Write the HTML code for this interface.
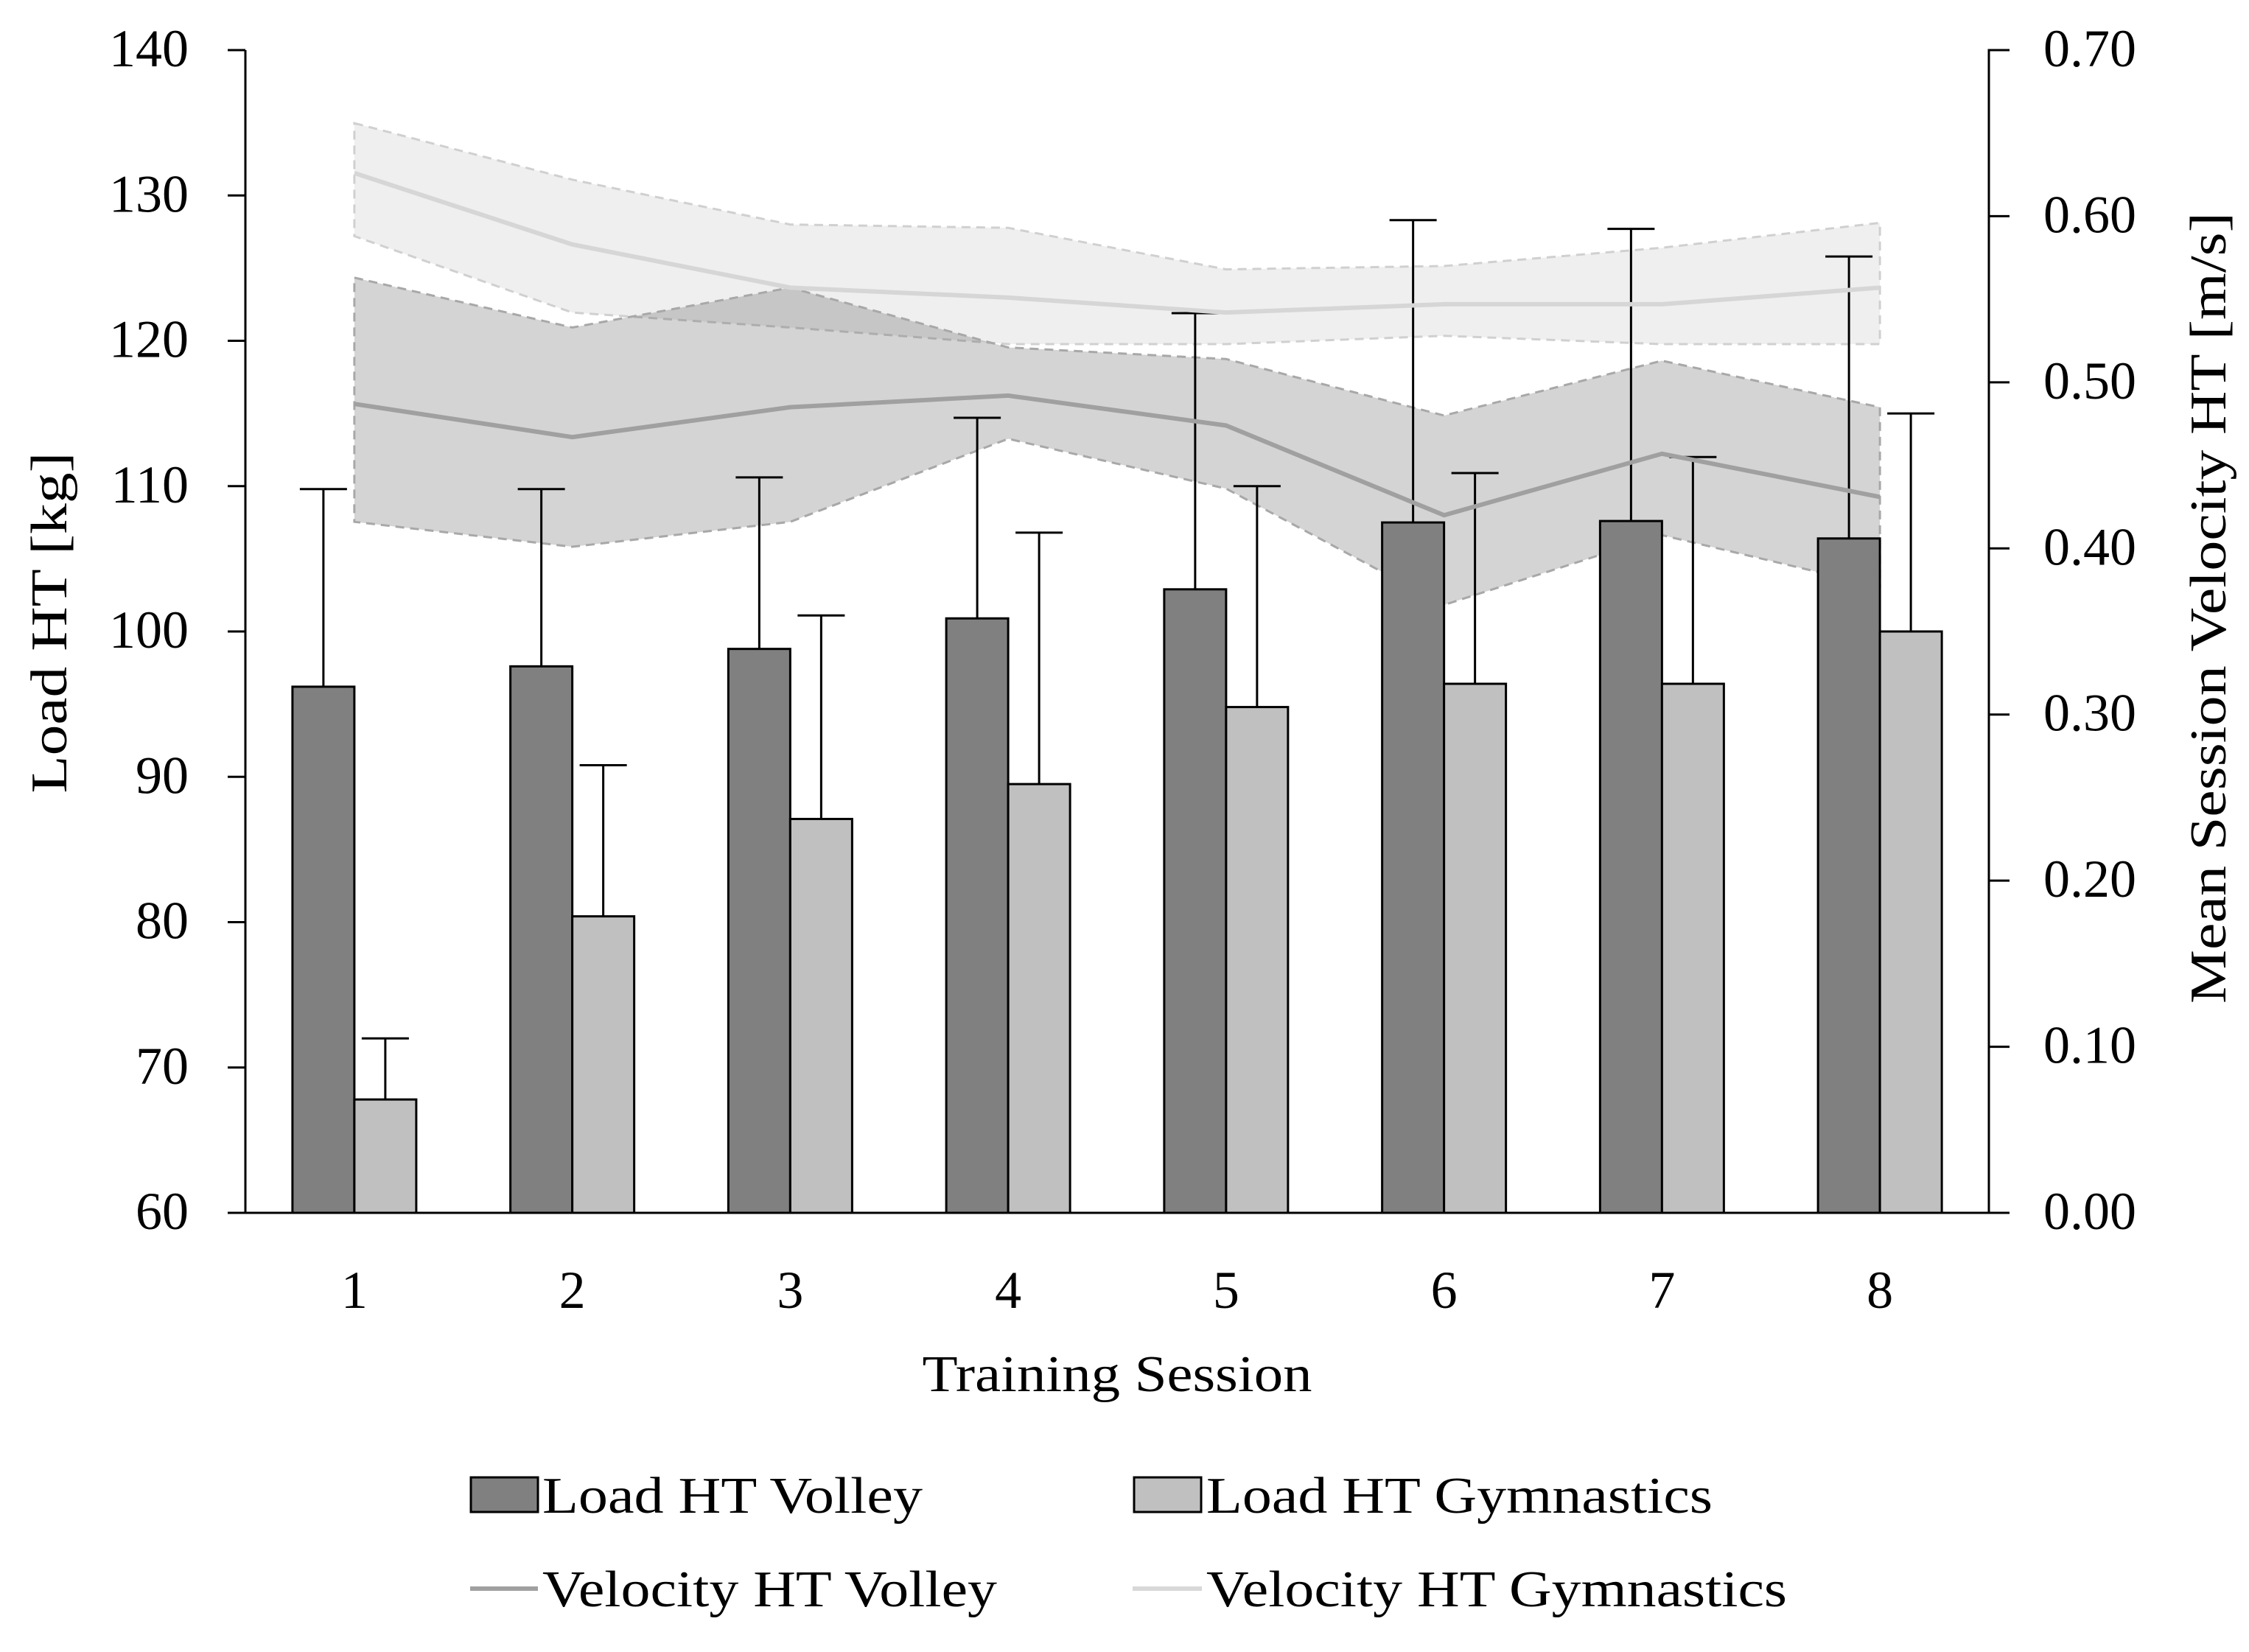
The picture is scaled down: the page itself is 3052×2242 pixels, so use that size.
<!DOCTYPE html>
<html><head><meta charset="utf-8"><style>
html,body{margin:0;padding:0;background:#fff;}
svg{display:block;font-family:"Liberation Serif",serif;}
</style></head><body>
<svg id="chart" width="3052" height="2242" viewBox="0 0 3052 2242" xmlns="http://www.w3.org/2000/svg">
<g id="bands"></g>
<g id="bars"></g>
<g id="lines"></g>
<g id="axes"></g>
<text x="1516" y="1888" font-size="70" text-anchor="middle" textLength="529" lengthAdjust="spacingAndGlyphs">Training Session</text>
<text transform="translate(90,845) rotate(-90)" font-size="70" text-anchor="middle" textLength="463" lengthAdjust="spacingAndGlyphs">Load HT [kg]</text>
<text transform="translate(3020,825) rotate(-90)" font-size="70" text-anchor="middle" textLength="1074" lengthAdjust="spacingAndGlyphs">Mean Session Velocity HT [m/s]</text>
<g>
 <g><rect x="639" y="2005" width="91" height="47" fill="#808080" stroke="#000" stroke-width="3"/><text x="736" y="2053" font-size="70" textLength="516" lengthAdjust="spacingAndGlyphs">Load HT Volley</text></g>
 <g><rect x="1539" y="2005" width="91" height="47" fill="#c0c0c0" stroke="#000" stroke-width="3"/><text x="1637" y="2053" font-size="70" textLength="687" lengthAdjust="spacingAndGlyphs">Load HT Gymnastics</text></g>
 <g><line x1="638" y1="2156" x2="730" y2="2156" stroke="#a0a0a0" stroke-width="6"/><text x="736" y="2180" font-size="70" textLength="617" lengthAdjust="spacingAndGlyphs">Velocity HT Volley</text></g>
 <g><line x1="1537" y1="2156" x2="1631" y2="2156" stroke="#d8d8d8" stroke-width="6"/><text x="1637" y="2180" font-size="70" textLength="788" lengthAdjust="spacingAndGlyphs">Velocity HT Gymnastics</text></g>
</g>
</svg>
<script>
const sessions = [1,2,3,4,5,6,7,8];
const loadVolley = [96.2,97.6,98.8,100.9,102.9,107.5,107.6,106.4];
const loadVolleyErrTop = [109.8,109.8,110.6,114.7,121.9,128.3,127.7,125.8];
const loadGym = [67.8,80.4,87.1,89.5,94.8,96.4,96.4,100.0];
const loadGymErrTop = [72.0,90.8,101.1,106.8,110.0,110.9,112.0,115.0];
const velVolley = [0.487,0.467,0.485,0.492,0.474,0.420,0.457,0.431];
const velVolleyUpper = [0.563,0.533,0.557,0.521,0.514,0.480,0.513,0.485];
const velVolleyLower = [0.416,0.401,0.416,0.466,0.436,0.366,0.408,0.377];
const velGym = [0.626,0.583,0.557,0.551,0.542,0.547,0.547,0.557];
const velGymUpper = [0.656,0.622,0.595,0.593,0.568,0.570,0.581,0.596];
const velGymLower = [0.588,0.542,0.533,0.523,0.523,0.528,0.523,0.523];
const leftTicks = [60,70,80,90,100,110,120,130,140];
const rightTicks = ["0.00","0.10","0.20","0.30","0.40","0.50","0.60","0.70"];

const NS="http://www.w3.org/2000/svg";
const L=333,R=2699,T=68,B=1646;
const xC=i=>L+(R-L)/sessions.length*(i+0.5);
const yL=v=>B-(v-60)/80*(B-T);
const yR=v=>B-v/0.7*(B-T);
function mk(parent,tag,attrs){const e=document.createElementNS(NS,tag);for(const k in attrs)e.setAttribute(k,attrs[k]);document.getElementById(parent).appendChild(e);return e;}

function band(up,lo,fill,stroke,name){
  const pts=up.map((v,i)=>xC(i)+','+yR(v)).concat(lo.map((v,i)=>xC(i)+','+yR(v)).reverse());
  const p=mk('bands','polygon',{points:pts.join(' '),fill:fill,stroke:stroke,'stroke-width':3,'stroke-dasharray':'12 8'});
  
  
}
band(velGymUpper,velGymLower,'#efefef','#d0d0d0','band-velocity-gymnastics');
band(velVolleyUpper,velVolleyLower,'rgba(0,0,0,0.17)','#a8a8a8','band-velocity-volley');

const bw=84;
sessions.forEach((s,i)=>{
  const c=xC(i);
  [[loadVolley,loadVolleyErrTop,c-bw,'#808080','volley'],[loadGym,loadGymErrTop,c,'#c0c0c0','gymnastics']].forEach(([vals,errs,x,col,nm])=>{
    const ex=x+bw/2;
    const el=mk('bars','line',{x1:ex,x2:ex,y1:yL(errs[i]),y2:yL(vals[i]),stroke:'#000','stroke-width':3});
    
    
    const cap=mk('bars','line',{x1:ex-32,x2:ex+32,y1:yL(errs[i]),y2:yL(errs[i]),stroke:'#000','stroke-width':3});
    
    
    const r=mk('bars','rect',{x:x,y:yL(vals[i]),width:bw,height:B-yL(vals[i]),fill:col,stroke:'#000','stroke-width':3});
    
    
  });
});

function line(vals,col,name){
  const p=mk('lines','polyline',{points:vals.map((v,i)=>xC(i)+','+yR(v)).join(' '),fill:'none',stroke:col,'stroke-width':6});
  
  
}
line(velGym,'#d6d6d6','line-velocity-gymnastics');
line(velVolley,'#a0a0a0','line-velocity-volley');

const ax=mk('axes','path',{d:`M${L},${T} V${B} H${R+14} M${R},${B} V${T} H${R+28}`,fill:'none',stroke:'#000','stroke-width':3});


leftTicks.forEach(v=>{
  const t=mk('axes','line',{x1:L-24,x2:L,y1:yL(v),y2:yL(v),stroke:'#000','stroke-width':3});
  
  
  const tx=mk('axes','text',{x:256,y:yL(v)+22,'font-size':72,'text-anchor':'end'});
  tx.textContent=v;
  
  
});
rightTicks.forEach(v=>{
  const t=mk('axes','line',{x1:R,x2:R+28,y1:yR(+v),y2:yR(+v),stroke:'#000','stroke-width':3});
  
  
  const tx=mk('axes','text',{x:2773,y:yR(+v)+22,'font-size':72});
  tx.textContent=v;
  
  
});
sessions.forEach((s,i)=>{
  const tx=mk('axes','text',{x:xC(i),y:1775,'font-size':72,'text-anchor':'middle'});
  tx.textContent=s;
  
  
});
</script>
</body></html>
